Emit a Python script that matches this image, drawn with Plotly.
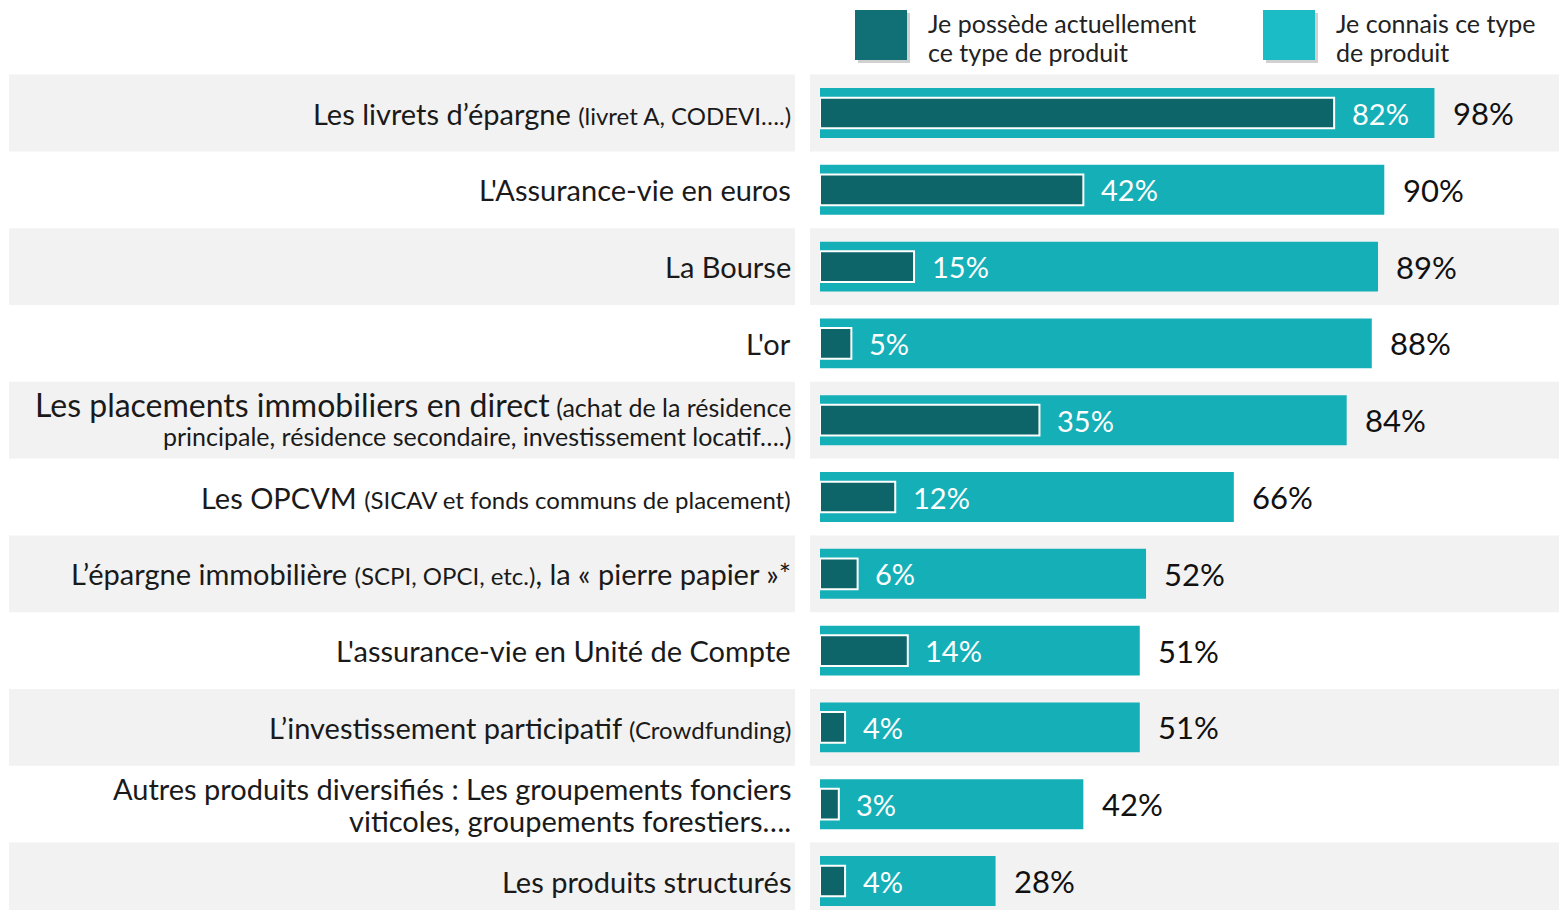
import plotly.graph_objects as go

# Données
libelles = [
    ["Les livrets d’épargne <span style='font-size:24px'>(livret A, CODEVI….)</span>"],
    ["L'Assurance-vie en euros"],
    ["La Bourse"],
    ["L'or"],
    ["<span style='font-size:32px'>Les placements immobiliers en direct</span> (achat de la résidence",
     "principale, résidence secondaire, investissement locatif….)"],
    ["Les OPCVM <span style='font-size:24px'>(SICAV et fonds communs de placement)</span>"],
    ["L’épargne immobilière <span style='font-size:24px'>(SCPI, OPCI, etc.)</span>, la « pierre papier »*"],
    ["L'assurance-vie en Unité de Compte"],
    ["L’investissement participatif <span style='font-size:24px'>(Crowdfunding)</span>"],
    ["Autres produits diversifiés : Les groupements fonciers",
     "viticoles, groupements forestiers…."],
    ["Les produits structurés"],
]
tailles = [29, 29, 29, 29, 25, 29, 29, 29, 29, 29, 29]
connait = [98, 90, 89, 88, 84, 66, 52, 51, 51, 42, 28]
possede = [82, 42, 15, 5, 35, 12, 6, 14, 4, 3, 4]

DARK = "#0e6569"
LIGHT = "#14afb7"
FONT = "Lato"

# la page ajoute 8px de marge autour du graphique
W, H = 1559, 902
def px(x):
    return (x - 8) / W
def py(y):
    return 1 - (y - 8) / H

rows = list(range(len(connait)))

fig = go.Figure()
fig.add_trace(go.Bar(
    y=rows, x=connait, orientation="h", width=0.65,
    marker=dict(color=LIGHT, line=dict(width=0)),
    name="Je connais ce type de produit", hoverinfo="x",
))
fig.add_trace(go.Bar(
    y=rows, x=possede, orientation="h", width=0.40,
    marker=dict(color=DARK, line=dict(width=2, color="white")),
    name="Je possède actuellement ce type de produit", hoverinfo="x",
))

shapes = []
annotations = []
for i, (lignes, fs, c, p) in enumerate(zip(libelles, tailles, connait, possede)):
    if i % 2 == 0:
        shapes.append(dict(type="rect", xref="paper", yref="y", x0=px(9), x1=px(795),
                           y0=i - 0.5, y1=i + 0.5, fillcolor="#f2f2f2", line_width=0, layer="below"))
        shapes.append(dict(type="rect", xref="paper", yref="y", x0=px(810), x1=1,
                           y0=i - 0.5, y1=i + 0.5, fillcolor="#f2f2f2", line_width=0, layer="below"))
    n = len(lignes)
    for k, txt in enumerate(lignes):
        annotations.append(dict(x=px(793), xref="paper", y=i, yref="y", text=txt, showarrow=False,
                                xanchor="right", align="right", yshift=(n - 1) * 16 - k * 32,
                                font=dict(family=FONT, size=fs, color="#1a1a1a")))
    annotations.append(dict(x=p + 2.5, y=i, text=f"{p}%", showarrow=False, xanchor="left",
                            font=dict(family=FONT, size=29, color="white")))
    annotations.append(dict(x=c + 2.6, y=i, text=f"{c}%", showarrow=False, xanchor="left",
                            font=dict(family=FONT, size=31, color="#111111")))

# légende dessinée à la main (grands carrés)
legende = [(855, "#117076", ["Je possède actuellement", "ce type de produit"]),
           (1263, "#1bbcc5", ["Je connais ce type", "de produit"])]
for x0, col, lignes in legende:
    shapes.append(dict(type="rect", xref="paper", yref="paper", x0=px(x0 + 3), x1=px(x0 + 55),
                       y0=py(63), y1=py(13), fillcolor="#d0d0d0", line_width=0))
    shapes.append(dict(type="rect", xref="paper", yref="paper", x0=px(x0), x1=px(x0 + 52),
                       y0=py(60), y1=py(10), fillcolor=col, line_width=0))
    for k, txt in enumerate(lignes):
        annotations.append(dict(x=px(x0 + 71), xref="paper", y=py(23 + 29 * k), yref="paper", text=txt,
                                showarrow=False, xanchor="left", yanchor="middle", align="left",
                                font=dict(family=FONT, size=25, color="#222222")))

pitch = 76.8
y_top = (113 - 8) / pitch
fig.update_layout(
    width=W, height=H, barmode="overlay", showlegend=False,
    plot_bgcolor="white", paper_bgcolor="white",
    margin=dict(l=0, r=0, t=0, b=0),
    shapes=shapes, annotations=annotations,
    xaxis=dict(domain=[px(820), 1], range=[0, (1567 - 820) / 6.27], visible=False, fixedrange=True),
    yaxis=dict(range=[H / pitch - y_top, -y_top], visible=False, fixedrange=True),
)
fig.write_html("out.html")
